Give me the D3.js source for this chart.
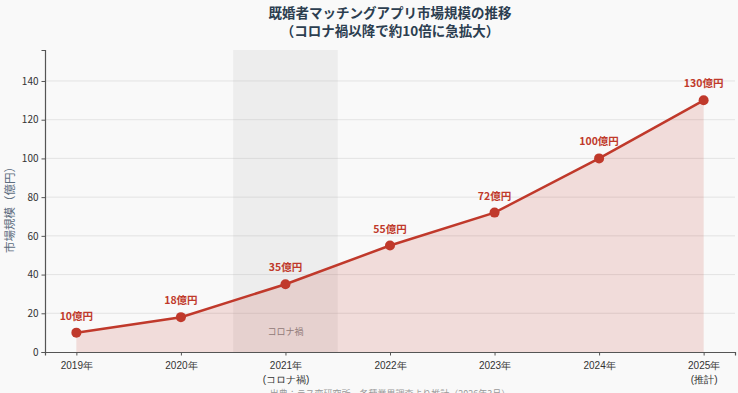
<!DOCTYPE html>
<html>
<head>
<meta charset="utf-8">
<script src="https://cdn.jsdelivr.net/npm/d3@7"></script>
<style>
  body { margin: 0; background: #f9f9f9; }
  svg { font-family: "Noto Sans CJK JP", "Noto Sans", sans-serif; }
</style>
</head>
<body>
<div id="chart"></div>
<script>
const years = ["2019年", "2020年", "2021年", "2022年", "2023年", "2024年", "2025年"];
const subLabels = ["", "", "(コロナ禍)", "", "", "", "(推計)"];
const values = [10, 18, 35, 55, 72, 100, 130];
const yTicks = [0, 20, 40, 60, 80, 100, 120, 140];

const width = 738, height = 393;
const plotLeft = 45, plotRight = 735, plotTop = 50, plotBottom = 352;
const lineColor = "#c0392b";

const svg = d3.select("#chart").append("svg")
    .attr("width", width)
    .attr("height", height);

svg.append("rect").attr("width", width).attr("height", height).attr("fill", "#f9f9f9");

let x = d3.scaleLinear().domain([-0.3, years.length - 0.7]).range([plotLeft, plotRight]);
let y = d3.scaleLinear().domain([0, 156]).range([plotBottom, plotTop]);

// grid
svg.append("g")
    .selectAll("line")
    .data(yTicks.slice(1))
    .join("line")
    .attr("x1", plotLeft).attr("x2", plotRight)
    .attr("y1", d => y(d)).attr("y2", d => y(d))
    .attr("stroke", "#dddddd")
    .attr("stroke-width", 0.8);

// covid shading
svg.append("rect")
    .attr("x", x(1.5))
    .attr("y", plotTop)
    .attr("width", x(2.5) - x(1.5))
    .attr("height", plotBottom - plotTop)
    .attr("fill", "#999999")
    .attr("opacity", 0.12);

svg.append("text")
    .attr("x", x(2))
    .attr("y", y(9))
    .attr("text-anchor", "middle")
    .attr("font-size", 9)
    .attr("fill", "#888888")
    .text("コロナ禍");

// area
let area = d3.area()
    .x((d, i) => x(i))
    .y0(y(0))
    .y1(d => y(d));

svg.append("path")
    .datum(values)
    .attr("d", area)
    .attr("fill", lineColor)
    .attr("opacity", 0.15);

let line = d3.line()
    .x((d, i) => x(i))
    .y(d => y(d));

svg.append("path")
    .datum(values)
    .attr("d", line)
    .attr("fill", "none")
    .attr("stroke", lineColor)
    .attr("stroke-width", 2.5);

svg.append("g")
    .selectAll("circle")
    .data(values)
    .join("circle")
    .attr("cx", (d, i) => x(i))
    .attr("cy", d => y(d))
    .attr("r", 5)
    .attr("fill", lineColor);

svg.append("g")
    .selectAll("text")
    .data(values)
    .join("text")
    .attr("x", (d, i) => x(i))
    .attr("y", d => y(d) - 13)
    .attr("text-anchor", "middle")
    .attr("font-size", 10.5)
    .attr("font-weight", "bold")
    .attr("fill", lineColor)
    .text(d => d + "億円");

// axes
let yAxis = svg.append("g")
    .attr("transform", "translate(" + plotLeft + ",0)")
    .call(d3.axisLeft(y).tickValues(yTicks).tickSize(3.5).tickPadding(3));
yAxis.select(".domain").attr("stroke", "#555555").attr("stroke-width", 1.2);
yAxis.selectAll(".tick line").attr("stroke", "#555555");
yAxis.selectAll("text").attr("font-size", 10).attr("fill", "#333333")
    .attr("font-family", "'Noto Sans CJK JP', sans-serif");

let xAxis = svg.append("g")
    .attr("transform", "translate(0," + plotBottom + ")")
    .call(d3.axisBottom(x).tickValues(d3.range(years.length)).tickSize(3.5).tickPadding(4).tickFormat(""));
xAxis.select(".domain").attr("stroke", "#555555").attr("stroke-width", 1.2);
xAxis.selectAll(".tick line").attr("stroke", "#555555");

xAxis.selectAll(".tick").each(function(d) {
    let t = d3.select(this).append("text")
        .attr("fill", "#333333")
        .attr("font-size", 10)
        .attr("text-anchor", "middle");
    t.append("tspan").attr("x", 0).attr("y", 17).text(years[d]);
    if (subLabels[d]) t.append("tspan").attr("x", 0).attr("y", 31).text(subLabels[d]);
});

// y label
svg.append("text")
    .attr("transform", "translate(14,207) rotate(-90)")
    .attr("text-anchor", "middle")
    .attr("font-size", 11.5)
    .attr("fill", "#5d6d7e")
    .text("市場規模（億円）");

// title
let title = svg.append("text")
    .attr("x", 390)
    .attr("text-anchor", "middle")
    .attr("font-size", 13.5)
    .attr("font-weight", "bold")
    .attr("fill", "#2c3e50");
title.append("tspan").attr("x", 390).attr("y", 18).text("既婚者マッチングアプリ市場規模の推移");
title.append("tspan").attr("x", 390).attr("y", 36).text("（コロナ禍以降で約10倍に急拡大）");

// source (partly below the bottom edge, as in the original)
svg.append("text")
    .attr("x", 390)
    .attr("y", 397)
    .attr("text-anchor", "middle")
    .attr("font-size", 9)
    .attr("fill", "#999999")
    .text("出典：ラス恋研究所・各種業界調査より推計（2026年3月）");
</script>
</body>
</html>
